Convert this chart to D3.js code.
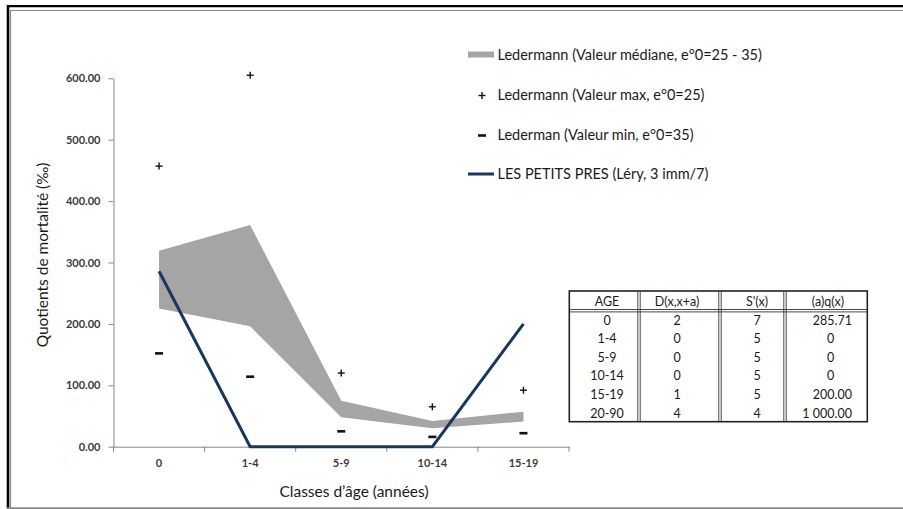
<!DOCTYPE html>
<html><head><meta charset="utf-8">
<script src="https://cdn.jsdelivr.net/npm/d3@7"></script>
<style>
html,body{margin:0;padding:0;background:#fff;}
svg{display:block;font-family:Lato,"Open Sans",sans-serif;}
</style></head>
<body>
<svg id="chart" width="903" height="509"></svg>
<script>
const categories = ["0", "1-4", "5-9", "10-14", "15-19"];
const bandHigh = [319, 361, 75, 42, 57];
const bandLow = [225, 196, 48, 30, 41];
const maxValues = [457, 605, 120, 65, 92];
const minValues = [152, 114, 25, 16, 22];
const leryValues = [285.71, 0, 0, 0, 200];
const yTicks = [0, 100, 200, 300, 400, 500, 600];
const legendLabels = [
  "Ledermann (Valeur médiane, e°0=25 - 35)",
  "Ledermann (Valeur max, e°0=25)",
  "Lederman (Valeur min, e°0=35)",
  "LES PETITS PRES (Léry, 3 imm/7)"
];
const tableHeader = ["AGE", "D(x,x+a)", "S'(x)", "(a)q(x)"];
const tableAge = ["0", "1-4", "5-9", "10-14", "15-19", "20-90"];
const tableD = ["2", "0", "0", "0", "1", "4"];
const tableS = ["7", "5", "5", "5", "5", "4"];
const tableQ = ["285.71", "0", "0", "0", "200.00", "1 000.00"];

const svg = d3.select("#chart");
const BLUE = "#17375e", GRAY = "#a5a5a5", AX = "#868686", TXT = "#1a1a1a";

// frame
svg.append("line").attr("x1", 7).attr("x2", 903).attr("y1", 6.2).attr("y2", 6.2).attr("stroke", "#000").attr("stroke-width", 2.2);
svg.append("line").attr("x1", 8).attr("x2", 8).attr("y1", 5).attr("y2", 509).attr("stroke", "#000").attr("stroke-width", 2.6);
svg.append("line").attr("x1", 10).attr("x2", 903).attr("y1", 10.5).attr("y2", 10.5).attr("stroke", "#8a8a8a").attr("stroke-width", 1.2);
svg.append("line").attr("x1", 10.5).attr("x2", 10.5).attr("y1", 10).attr("y2", 509).attr("stroke", "#8a8a8a").attr("stroke-width", 1.2);
svg.append("line").attr("x1", 7).attr("x2", 903).attr("y1", 508.2).attr("y2", 508.2).attr("stroke", "#8a8a8a").attr("stroke-width", 1.8);

const x = d3.scaleBand().domain(categories).range([113.5, 569]);
const cx = d => x(d) + x.bandwidth() / 2;
const y = d3.scaleLinear().domain([0, 600]).range([446.7, 78.3]);

// band area
const bandData = categories.map((c, i) => ({c, hi: bandHigh[i], lo: bandLow[i]}));
svg.append("path").datum(bandData)
  .attr("d", d3.area().x(d => cx(d.c)).y0(d => y(d.lo)).y1(d => y(d.hi)))
  .attr("fill", GRAY);

// y axis
const yAxis = svg.append("g").attr("transform", "translate(113.5,0)")
  .call(d3.axisLeft(y).tickValues(yTicks).tickFormat(d3.format(".2f")).tickSize(5).tickSizeOuter(0).tickPadding(8));
yAxis.select(".domain").attr("stroke", AX);
yAxis.selectAll(".tick line").attr("stroke", AX);
yAxis.selectAll(".tick text").attr("fill", "#3a3a3a").attr("font-size", 11).attr("font-weight", "bold").attr("font-family", "Lato, sans-serif");

// x axis
const xAxis = svg.append("g").attr("transform", `translate(0,${y(0)})`)
  .call(d3.axisBottom(x).tickSize(0).tickSizeOuter(0).tickPadding(13));
xAxis.select(".domain").attr("stroke", AX);
xAxis.selectAll(".tick text").attr("fill", "#3a3a3a").attr("font-size", 11).attr("font-weight", "bold").attr("font-family", "Lato, sans-serif");
const edges = categories.map(c => x(c)).concat([x(categories[categories.length - 1]) + x.bandwidth()]);
xAxis.selectAll(".edge").data(edges).enter().append("line")
  .attr("x1", d => d).attr("x2", d => d).attr("y1", 0).attr("y2", 5).attr("stroke", AX);

// Léry line
svg.append("path").datum(leryValues.map((v, i) => ({c: categories[i], v})))
  .attr("d", d3.line().x(d => cx(d.c)).y(d => y(d.v)))
  .attr("fill", "none").attr("stroke", BLUE).attr("stroke-width", 3).attr("stroke-linejoin", "miter");

// max markers (+)
const plus = (g, px, py) => {
  g.append("line").attr("x1", px - 3.5).attr("x2", px + 3.5).attr("y1", py).attr("y2", py).attr("stroke", "#111").attr("stroke-width", 1.4);
  g.append("line").attr("x1", px).attr("x2", px).attr("y1", py - 3.5).attr("y2", py + 3.5).attr("stroke", "#111").attr("stroke-width", 1.4);
};
const minus = (g, px, py) => {
  g.append("line").attr("x1", px - 4).attr("x2", px + 4).attr("y1", py).attr("y2", py).attr("stroke", "#111").attr("stroke-width", 2.6);
};
const gMax = svg.append("g");
maxValues.forEach((v, i) => plus(gMax, cx(categories[i]), y(v)));
const gMin = svg.append("g");
minValues.forEach((v, i) => minus(gMin, cx(categories[i]), y(v)));

// axis titles
svg.append("text").attr("transform", "translate(48,255) rotate(-90)").attr("text-anchor", "middle")
  .attr("font-size", 15.5).attr("fill", TXT).text("Quotients de mortalité (‰)");
svg.append("text").attr("x", 354).attr("y", 497).attr("text-anchor", "middle")
  .attr("font-size", 15.5).attr("fill", TXT).text("Classes d’âge (années)");

// legend
const legY = [54.5, 94.5, 134.5, 174];
const lg = svg.append("g");
lg.append("rect").attr("x", 468).attr("y", legY[0] - 3).attr("width", 26).attr("height", 6).attr("fill", GRAY);
plus(lg, 482, legY[1] + 1);
minus(lg, 482, legY[2] + 1);
lg.append("line").attr("x1", 468).attr("x2", 494).attr("y1", legY[3]).attr("y2", legY[3]).attr("stroke", BLUE).attr("stroke-width", 3);
lg.selectAll(".lt").data(legendLabels).enter().append("text")
  .attr("x", 497.5).attr("y", (d, i) => legY[i] + 5).attr("font-size", 14.5).attr("fill", TXT).text(d => d);

// table
const tL = 569.3, tR = 867.3, tT = 291, tH = 310.7, tB = 421.7;
const colX = [tL, 639, 720, 785, tR];
const tg = svg.append("g");
tg.append("rect").attr("x", tL).attr("y", tT).attr("width", tR - tL).attr("height", tB - tT).attr("fill", "#fff").attr("stroke", "#222").attr("stroke-width", 1.6);
colX.slice(1, 4).forEach(cxv => {
  [-1.2, 1.2].forEach(o => tg.append("line").attr("x1", cxv + o).attr("x2", cxv + o).attr("y1", tT).attr("y2", tB).attr("stroke", "#333").attr("stroke-width", 0.9));
});
[-1.2, 1.2].forEach(o => tg.append("line").attr("x1", tL).attr("x2", tR).attr("y1", tH + o).attr("y2", tH + o).attr("stroke", "#333").attr("stroke-width", 0.9));
const mids = [607, 677, 757, 828];
tg.selectAll(".hd").data(tableHeader).enter().append("text")
  .attr("x", (d, i) => mids[i]).attr("y", 306).attr("text-anchor", "middle").attr("font-size", 12.5).attr("fill", TXT).text(d => d);
const rowY = [320, 338.6, 357.2, 375.8, 394.4, 413];
const cols = [tableAge, tableD, tableS];
cols.forEach((col, ci) => {
  tg.selectAll(".c" + ci).data(col).enter().append("text")
    .attr("x", mids[ci]).attr("y", (d, i) => rowY[i] + 4.5).attr("text-anchor", "middle").attr("font-size", 12.5).attr("fill", TXT).text(d => d);
});
tg.selectAll(".cq").data(tableQ).enter().append("text")
  .attr("x", d => d.includes(".") ? 852 : 830.5)
  .attr("y", (d, i) => rowY[i] + 4.5)
  .attr("text-anchor", d => d.includes(".") ? "end" : "middle")
  .attr("font-size", 12.5).attr("fill", TXT).text(d => d);
</script>
</body></html>
